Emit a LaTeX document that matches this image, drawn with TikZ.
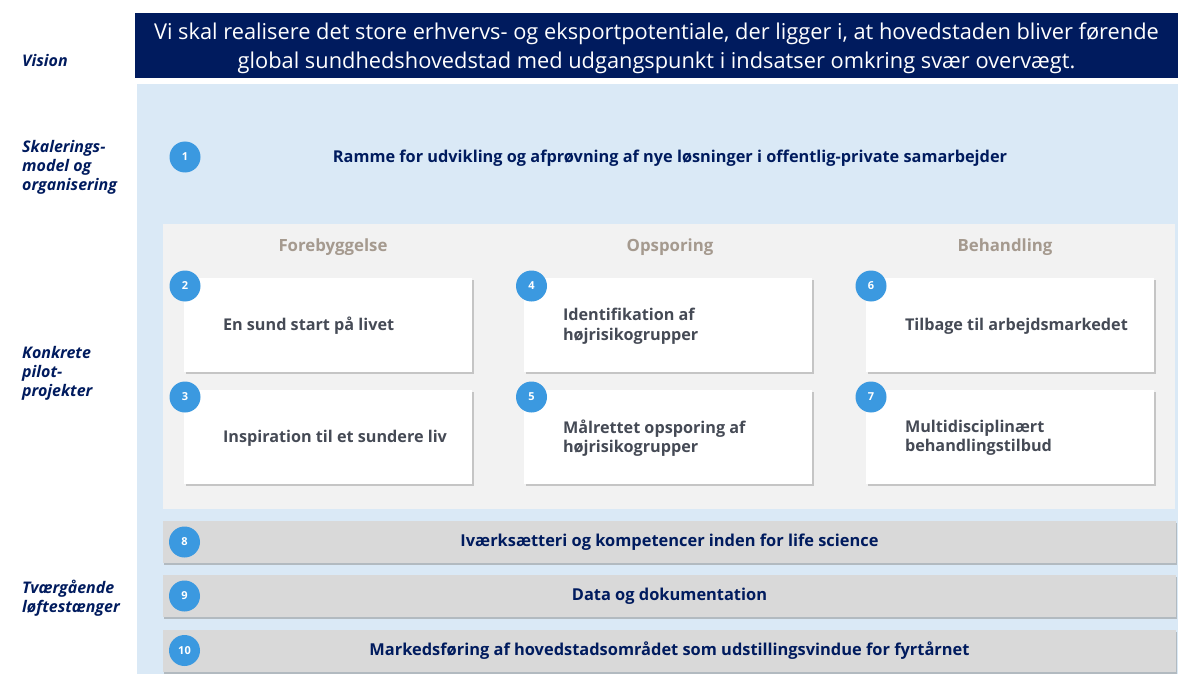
\documentclass[tikz,border=0pt]{standalone}
\usepackage{fontspec}
\setmainfont{Open Sans}
\usetikzlibrary{positioning,shadows}

\definecolor{navy}{HTML}{001B5E}
\definecolor{paleblue}{HTML}{DAE9F6}
\definecolor{panelgray}{HTML}{F2F2F2}
\definecolor{bandgray}{HTML}{D9D9D9}
\definecolor{numblue}{HTML}{3B99E0}
\definecolor{taupe}{HTML}{A59A8F}
\definecolor{cardink}{HTML}{454A55}

\tikzset{
  sidelabel/.style={anchor=west, align=left, text=navy, inner sep=0pt,
    font=\fontsize{16}{19}\selectfont\bfseries\itshape},
  num/.style={circle, fill=numblue, text=white, minimum size=31pt, inner sep=0pt,
    font=\fontsize{11}{12}\selectfont\bfseries},
  card/.style={fill=white, minimum width=288pt, minimum height=94pt, inner sep=0pt,
    drop shadow={shadow xshift=2pt, shadow yshift=-2pt, opacity=0.5, fill=black!40}},
  cardtext/.style={anchor=west, align=left, text=cardink, inner sep=0pt,
    font=\fontsize{16.2}{19.5}\selectfont\bfseries},
  coltitle/.style={text=taupe, font=\fontsize{16.8}{18}\selectfont\bfseries},
  band/.style={fill=bandgray, minimum width=1013pt, minimum height=42pt, inner sep=0pt,
    text=navy, font=\fontsize{16.4}{18}\selectfont\bfseries,
    drop shadow={shadow xshift=1pt, shadow yshift=-2pt, opacity=0.5, fill=black!45}},
}

\begin{document}
\begin{tikzpicture}[x=1pt,y=-1pt]
\useasboundingbox[fill=white] (0,0) rectangle (1178,674);

% backgrounds
\fill[navy] (135,13) rectangle (1178,78);
\node[text=white, align=center, inner sep=0pt, font=\fontsize{21.8}{29}\selectfont] (vision) at (656.5,48)
  {Vi skal realisere det store erhvervs- og eksportpotentiale, der ligger i, at hovedstaden bliver førende\\
   global sundhedshovedstad med udgangspunkt i indsatser omkring svær overvægt.};
\fill[paleblue] (137,84) rectangle (1178,674);
\fill[panelgray] (163,224) rectangle (1175,509);

% left labels
\node[sidelabel] (lvision) at (22,61) {Vision};
\node[sidelabel] (lskal) at (22,167.5) {Skalerings-\\model og\\organisering};
\node[sidelabel] (lpilot) at (22,373) {Konkrete\\pilot-\\projekter};
\node[sidelabel] (ltvaer) at (22,598.5) {Tværgående\\løftestænger};

% row 1
\node[num] (n1) at (185,157) {1};
\node[text=navy, font=\fontsize{16.3}{18}\selectfont\bfseries] (ramme) at (670,158.5)
  {Ramme for udvikling og afprøvning af nye løsninger i offentlig-private samarbejder};

% columns
\node[coltitle] (forebyg) at (333,247) {Forebyggelse};
\node[coltitle] (opspor) at (670,247) {Opsporing};
\node[coltitle] (behandl) at (1005,247) {Behandling};

\node[card] (c2) at (328,325) {};
\node[card] (c3) at (328,437) {};
\node[card] (c4) at (668,325) {};
\node[card] (c5) at (668,437) {};
\node[card] (c6) at (1010,325) {};
\node[card] (c7) at (1010,437) {};

\node[cardtext] (t2) at ([xshift=39pt,yshift=-1pt]c2.west) {En sund start på livet};
\node[cardtext] (t3) at ([xshift=39pt,yshift=-1pt]c3.west) {Inspiration til et sundere liv};
\node[cardtext] (t4) at ([xshift=39pt,yshift=-1pt]c4.west) {Identifikation af\\højrisikogrupper};
\node[cardtext] (t5) at ([xshift=39pt,yshift=-1pt]c5.west) {Målrettet opsporing af\\højrisikogrupper};
\node[cardtext] (t6) at ([xshift=39pt,yshift=-1pt]c6.west) {Tilbage til arbejdsmarkedet};
\node[cardtext] (t7) at ([xshift=39pt,yshift=-1pt]c7.west) {Multidisciplinært\\behandlingstilbud};

\node[num] (n2) at (185,286) {2};
\node[num] (n3) at (185,397) {3};
\node[num] (n4) at (531.5,286) {4};
\node[num] (n5) at (531.5,397) {5};
\node[num] (n6) at (871,286) {6};
\node[num] (n7) at (871,397) {7};

% cross-cutting bands
\foreach \k/\yy/\txt in {8/542/{Iværksætteri og kompetencer inden for life science},
                         9/596/{Data og dokumentation},
                         10/650.5/{Markedsføring af hovedstadsområdet som udstillingsvindue for fyrtårnet}}{
  \node[band] (b\k) at (669.5,\yy) {\txt};
  \node[num] (n\k) at (184.5,\yy) {\k};
}
\end{tikzpicture}
\end{document}
